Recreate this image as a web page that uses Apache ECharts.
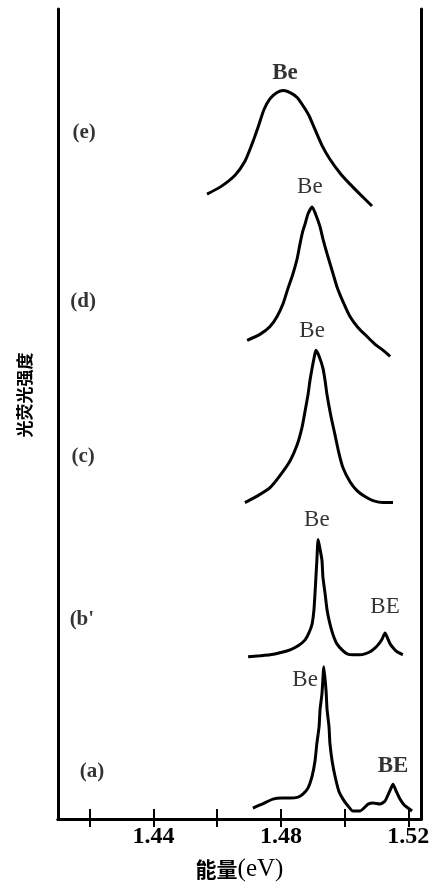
<!DOCTYPE html>
<html>
<head>
<meta charset="utf-8">
<script src="https://cdn.jsdelivr.net/npm/echarts@6/dist/echarts.min.js"></script>
<style>html,body{margin:0;padding:0;background:#fff;}#c{width:437px;height:887px;}</style>
</head>
<body>
<div id="c"></div>
<script>
// Energy (eV) and offset intensity (arbitrary units)
const eX = [1.4568,1.4609,1.4656,1.4687,1.4709,1.4728,1.4747,1.4766,1.4788,1.4807,1.4829,1.4851,1.4869,1.4888,1.4907,1.4929,1.4954,1.4986,1.5017,1.5048,1.5086];
const eY = [628,635,647,661,678,695,713,724,730,732,730,725,717,707,693,677,663,649,638,628,616];

const dX = [1.4694,1.4734,1.4766,1.4788,1.4807,1.4822,1.4838,1.4851,1.4860,1.4869,1.4876,1.4885,1.4898,1.4910,1.4923,1.4932,1.4945,1.4961,1.4976,1.4995,1.5017,1.5042,1.5070,1.5096,1.5121,1.5143];
const dY = [481,487,495,505,518,533,548,563,578,591,598,608,615,607,595,583,568,551,535,520,505,494,485,477,471,465];

const cX = [1.4687,1.4728,1.4766,1.4797,1.4829,1.4851,1.4866,1.4876,1.4885,1.4891,1.4898,1.4904,1.4910,1.4920,1.4932,1.4939,1.4945,1.4957,1.4970,1.4982,1.4995,1.5017,1.5039,1.5064,1.5089,1.5121,1.5152];
const cY = [318,325,333,345,360,376,393,410,426,440,453,463,471,465,453,440,426,405,386,368,353,339,330,324,320,318,318];

const bX = [1.4697,1.4734,1.4766,1.4797,1.4829,1.4854,1.4876,1.4888,1.4898,1.4904,1.4907,1.4910,1.4913,1.4917,1.4923,1.4929,1.4932,1.4939,1.4945,1.4954,1.4964,1.4976,1.4992,1.5008,1.5026,1.5048,1.5064,1.5080,1.5096,1.5105,1.5118,1.5127,1.5136,1.5143,1.5155,1.5165,1.5183];
const bY = [163,164,165,167,170,174,180,187,196,211,226,243,260,281,271,260,243,226,210,196,185,176,170,166,165,165,166,168,172,175,181,187,181,176,171,168,165];

const aX = [1.4712,1.4741,1.4775,1.4803,1.4829,1.4854,1.4869,1.4885,1.4898,1.4907,1.4913,1.4920,1.4923,1.4929,1.4935,1.4942,1.4945,1.4951,1.4954,1.4961,1.4970,1.4982,1.4995,1.5011,1.5026,1.5048,1.5064,1.5074,1.5089,1.5111,1.5127,1.5136,1.5146,1.5152,1.5162,1.5174,1.5187,1.5199,1.5212];
const aY = [11,15,20,21,21,22,25,31,43,58,76,93,110,126,153,128,110,93,76,58,43,28,20,13,8,8,12,15,16,15,18,24,31,35,28,20,14,11,8];

// Axis ticks and labels
const tickValues = [1.42,1.44,1.46,1.48,1.50,1.52];
const labelValues = [1.44,1.48,1.52];

// Annotation texts and their positions in data units [eV, intensity]
const peakTexts = ['Be','Be','Be','Be','Be','BE','BE'];
const peakPos = [[1.4813,750],[1.4891,635],[1.4898,490],[1.4913,301],[1.4876,140],[1.5127,213],[1.5152,53]];
const peakBold = [true,false,false,false,false,false,true];
const curveNames = ['(e)','(d)','(c)',"(b'",'(a)'];
const curvePos = [[1.4182,690],[1.4179,520],[1.4179,364],[1.4175,200],[1.4207,48]];

const zip = (xs, ys) => xs.map((x, i) => [x, ys[i]]);
const lineStyle = {color: '#000', width: 3};
const mkLine = (xs, ys) => ({type: 'line', data: zip(xs, ys), symbol: 'none', smooth: 0.2, lineStyle, silent: true});

const chart = echarts.init(document.getElementById('c'));
const serif = '"Liberation Serif", "DejaVu Serif", serif';
chart.setOption({
  animation: false,
  backgroundColor: '#fff',
  grid: {left: 58, right: 16, top: 9, bottom: 64},
  xAxis: [{
    type: 'value', min: 1.41, max: 1.524, position: 'bottom',
    axisLine: {lineStyle: {color: '#000', width: 3}},
    axisTick: {show: true, inside: true, length: 10, customValues: tickValues, lineStyle: {color: '#000', width: 2}},
    axisLabel: {customValues: labelValues, formatter: v => v.toFixed(2), color: '#000', fontFamily: serif, fontSize: 24, fontWeight: 'bold', margin: 6},
    splitLine: {show: false},
    name: '{c|能量}{e|(eV)}', nameLocation: 'middle', nameGap: 38,
    nameTextStyle: {rich: {
      c: {fontFamily: '"Noto Sans CJK SC"', fontWeight: 'bold', fontSize: 21, color: '#000'},
      e: {fontFamily: serif, fontSize: 25, color: '#000'}
    }}
  }, {
    type: 'value', min: 1.41, max: 1.524, position: 'top',
    axisLine: {lineStyle: {color: '#000', width: 3}},
    axisTick: {show: true, inside: true, length: 8, customValues: tickValues, lineStyle: {color: '#000', width: 2}},
    axisLabel: {show: false}, splitLine: {show: false}
  }],
  yAxis: [{
    type: 'value', min: 0, max: 814, position: 'left',
    axisLine: {show: true, lineStyle: {color: '#000', width: 3}},
    axisTick: {show: false}, axisLabel: {show: false}, splitLine: {show: false}
  }, {
    type: 'value', min: 0, max: 814, position: 'right',
    axisLine: {show: true, lineStyle: {color: '#000', width: 3}},
    axisTick: {show: false}, axisLabel: {show: false}, splitLine: {show: false}
  }],
  graphic: [{
    type: 'text', x: 25, y: 395, rotation: Math.PI / 2,
    style: {text: '光荧光强度', fontFamily: '"Noto Sans CJK SC"', fontWeight: 'bold', fontSize: 17, fill: '#000', align: 'center', verticalAlign: 'middle'}
  }],
  series: [
    mkLine(eX, eY), mkLine(dX, dY), mkLine(cX, cY), mkLine(bX, bY), mkLine(aX, aY),
    {
      type: 'scatter', symbolSize: 0, silent: true,
      data: peakPos.map((p, i) => ({value: p, label: {show: true, formatter: peakTexts[i], position: 'inside', fontFamily: serif, fontSize: 23, fontWeight: peakBold[i] ? 'bold' : 'normal', color: '#000'}}))
    },
    {
      type: 'scatter', symbolSize: 0, silent: true,
      data: curvePos.map((p, i) => ({value: p, label: {show: true, formatter: curveNames[i], position: 'inside', fontFamily: serif, fontSize: 21, fontWeight: 'bold', color: '#000'}}))
    }
  ]
});
</script>
</body>
</html>
